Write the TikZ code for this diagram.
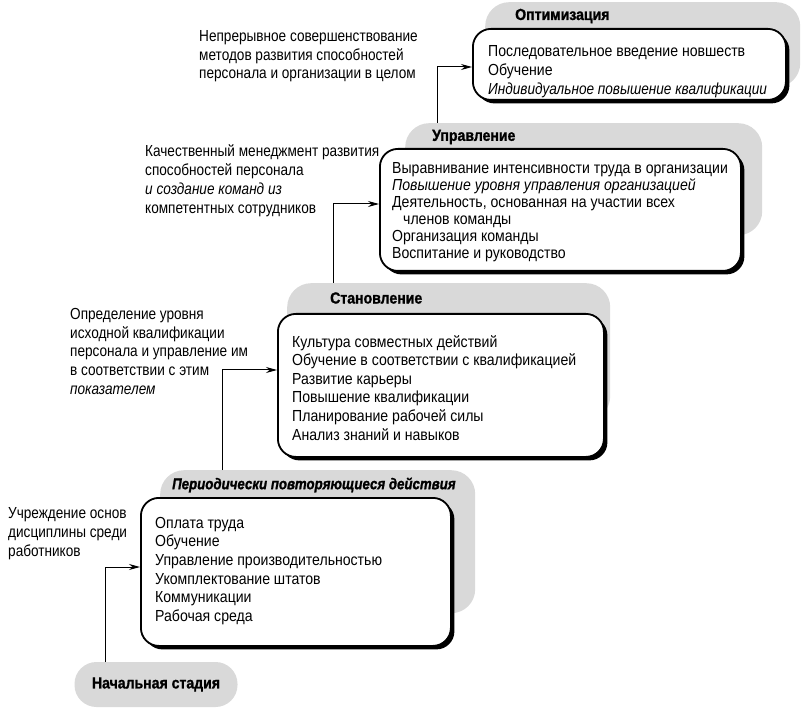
\documentclass[tikz,border=0pt]{standalone}
\usepackage{fontspec}
\setmainfont{Liberation Sans}[FakeStretch=0.88]
\newfontfamily\lblfont{Liberation Sans}[FakeStretch=0.85]
\usetikzlibrary{shadows,arrows.meta}
\begin{document}
\begin{tikzpicture}[x=1pt,y=-1pt,
  bgshape/.style={fill=gray!30, rounded corners=24pt, anchor=north west, inner sep=0pt},
  stagebox/.style={draw=black, line width=1.8pt, fill=white, rounded corners=18pt, anchor=north west, inner sep=0pt,
    drop shadow={shadow xshift=3.5pt, shadow yshift=-3.5pt, opacity=1, fill=black}},
  ttl/.style={font=\fontsize{16}{18}\selectfont\bfseries\addfontfeature{FakeBold=1.2}, anchor=west, inner sep=0pt},
  items/.style={font=\fontsize{16}{18.6}\selectfont, align=left, anchor=north west, inner sep=0pt},
  lbl/.style={font=\lblfont\fontsize{16}{18.8}\selectfont, align=left, anchor=north west, inner sep=0pt},
  arr/.style={-{Stealth[length=11pt,width=6pt]}, line width=1pt}
]
\useasboundingbox[fill=white] (0,0) rectangle (803,708);

% Stage 5
\node[bgshape, minimum width=315pt, minimum height=85pt] (g5) at (485,2) {};
\node[ttl] (t5) at (515,16) {Оптимизация};
\node[stagebox, minimum width=313pt, minimum height=71pt] (b5) at (472,28) {};
\node[items, font=\fontsize{16}{19}\selectfont] (i5) at (488,45) {Последовательное введение новшеств\\Обучение\\\lblfont\itshape Индивидуальное повышение квалификации};
\node[lbl] (l5) at (199,30) {Непрерывное совершенствование\\методов развития способностей\\персонала и организации в целом};

% Stage 4
\node[bgshape, minimum width=357pt, minimum height=112pt] (g4) at (405,123) {};
\node[ttl] (t4) at (432,137) {Управление};
\node[stagebox, minimum width=361pt, minimum height=122pt] (b4) at (379,148) {};
\node[items, font=\fontsize{16}{17}\selectfont] (i4) at (392,162) {Выравнивание интенсивности труда в организации\\\itshape Повышение уровня управления организацией\\Деятельность, основанная на участии всех\\\hspace*{11pt}членов команды\\Организация команды\\Воспитание и руководство};
\node[lbl, font=\lblfont\fontsize{16}{19}\selectfont] (l4) at (145,144) {Качественный менеджмент развития\\способностей персонала\\\itshape и создание команд из\\компетентных сотрудников};

% Stage 3
\node[bgshape, minimum width=323pt, minimum height=137pt] (g3) at (287,283) {};
\node[ttl] (t3) at (330,298) {Становление};
\node[stagebox, minimum width=326pt, minimum height=143pt] (b3) at (277,313) {};
\node[items] (i3) at (292,335) {Культура совместных действий\\Обучение в соответствии с квалификацией\\Развитие карьеры\\Повышение квалификации\\Планирование рабочей силы\\Анализ знаний и навыков};
\node[lbl] (l3) at (70,308) {Определение уровня\\исходной квалификации\\персонала и управление им\\в соответствии с этим\\\itshape показателем};

% Stage 2
\node[bgshape, minimum width=315pt, minimum height=143pt] (g2) at (160,470) {};
\node[ttl, font=\lblfont\fontsize{15.6}{18}\selectfont\bfseries\itshape\addfontfeature{FakeBold=1.2}] (t2) at (172,485) {Периодически повторяющиеся действия};
\node[stagebox, minimum width=310pt, minimum height=148pt] (b2) at (140,497) {};
\node[items] (i2) at (155,517) {Оплата труда\\Обучение\\Управление производительностью\\Укомплектование штатов\\Коммуникации\\Рабочая среда};
\node[lbl, font=\lblfont\fontsize{16}{19}\selectfont] (l2) at (8,507) {Учреждение основ\\дисциплины среди\\работников};

% Stage 1
\node[fill=gray!30, rounded corners=22pt, minimum width=163pt, minimum height=45pt, inner sep=0pt,
  font=\fontsize{16}{18}\selectfont\bfseries\addfontfeature{FakeBold=1.2}] (g1) at (156,684.5) {Начальная стадия};

% connectors
\coordinate (s5) at (437,123);
\coordinate (e5) at (472,67);
\coordinate (s4) at (333,283);
\coordinate (e4) at (379,204);
\coordinate (s3) at (222,470);
\coordinate (e3) at (277,370);
\coordinate (s2) at (105,662);
\coordinate (e2) at (140,567);
\draw[arr] (s5) |- (e5);
\draw[arr] (s4) |- (e4);
\draw[arr] (s3) |- (e3);
\draw[arr] (s2) |- (e2);
\end{tikzpicture}
\end{document}
